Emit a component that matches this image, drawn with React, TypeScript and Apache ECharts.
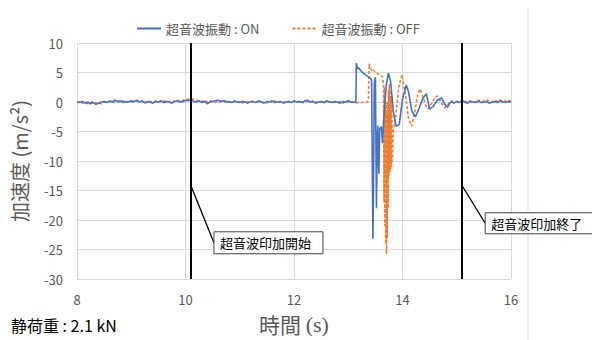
import React, { useEffect, useRef } from "react";
import * as echarts from "echarts";

const seriesNames = ["超音波振動 : ON", "超音波振動 : OFF"];
const seriesColors = ["#4472c4", "#ed7d31"];
const xAxisName = "時間";
const xAxisUnit = "(s)";
const yAxisName = "加速度 (m/s²)";
const xRange = [8, 16];
const yRange = [-30, 10];
const xStep = 2;
const yStep = 5;
const sampleStep = 0.05;

// ON: quiet part before the event, sampled every 0.05 s from 8.00 s
const onPreStart = 8.0;
const onPre = [
  0.0, -0.1, 0.1, -0.2, 0.0, -0.3, -0.1, -0.4, -0.2, 0.0,
  0.1, -0.1, 0.2, 0.0, 0.3, 0.1, 0.2, -0.1, 0.1, 0.0,
  0.2, 0.1, 0.3, 0.0, 0.2, -0.1, 0.1, 0.0, -0.2, 0.1,
  0.0, 0.2, -0.1, 0.1, 0.0, -0.2, 0.1, 0.2, 0.0, 0.1,
  0.3, 0.2, 0.4, 0.1, 0.0, 0.2, -0.1, 0.1, -0.3, 0.0,
  0.1, 0.2, 0.3, 0.1, 0.2, 0.0, 0.1, -0.1, 0.2, 0.0,
  -0.1, 0.1, 0.0, -0.2, 0.1, 0.0, -0.1, 0.2, 0.0, -0.2,
  0.1, 0.0, 0.2, -0.1, 0.0, 0.1, -0.2, 0.0, 0.1, -0.1,
  0.2, 0.0, 0.1, -0.1, 0.2, 0.3, 0.0, 0.1, -0.2, 0.0,
  0.1, -0.1, 0.2, 0.0, -0.1, 0.1, 0.0, -0.2, 0.1, 0.0,
  0.2, 0.0, -0.1,
];
// ON: the event [time, value]
const onBurst: [number, number][] = [
  [13.14, 0.0], [13.15, 6.6], [13.17, 5.6], [13.19, 5.8], [13.25, 5.1],
  [13.32, 4.6], [13.4, 4.1], [13.43, 3.7], [13.455, -23.2], [13.47, -9],
  [13.48, 3.2], [13.5, 4.2], [13.52, -18], [13.535, -6], [13.545, -4],
  [13.565, -12.2], [13.58, -4.5], [13.61, -4.2], [13.63, -7], [13.66, -2],
  [13.7, 2.8], [13.74, 4.9], [13.78, 3.5], [13.83, -1.5], [13.88, -4.1],
  [13.94, -3.8], [14.0, 0.5], [14.07, 2.9], [14.11, 1.8], [14.17, -1.5],
  [14.24, -2.5], [14.3, -1.2], [14.37, 0.5], [14.44, 1.4], [14.5, -1.2],
  [14.56, -0.8], [14.64, 0.3], [14.72, 0.7], [14.78, -0.4], [14.83, -0.9],
  [14.87, -0.2],
];
const onPostStart = 14.9;
const onPost = [
  0.0, -0.2, 0.1, -0.1, 0.2, 0.0, -0.2, 0.1, 0.0, -0.1, 0.2, -0.1,
  0.0, 0.1, -0.2, 0.0, 0.1, -0.1, 0.2, 0.0, -0.1, 0.1, 0.0,
];

// OFF
const offPreStart = 8.0;
const offPre = [
  -0.1, 0.1, -0.2, 0.0, -0.3, -0.1, 0.1, -0.2, 0.0, -0.3,
  -0.1, 0.1, 0.0, 0.2, -0.1, 0.1, 0.0, 0.2, -0.1, 0.0,
  0.1, -0.1, 0.2, 0.0, 0.1, -0.2, 0.0, 0.1, -0.1, 0.2,
  0.0, 0.1, 0.2, 0.0, 0.1, -0.1, 0.2, 0.3, 0.1, 0.3,
  0.4, 0.5, 0.6, 0.4, 0.3, 0.2, 0.1, 0.3, 0.0, 0.2,
  0.1, -0.1, 0.2, 0.0, 0.1, 0.2, -0.1, 0.1, 0.0, 0.2,
  0.0, -0.2, 0.1, 0.0, -0.1, 0.2, 0.1, -0.1, 0.0, 0.1,
  -0.2, 0.1, 0.0, 0.2, -0.1, 0.0, 0.1, -0.2, 0.1, 0.0,
  0.1, -0.1, 0.2, 0.0, -0.2, 0.1, 0.0, 0.2, -0.1, 0.1,
  0.0, -0.2, 0.1, 0.0, 0.2, -0.1, 0.0, 0.1, -0.2, 0.0,
  0.1, -0.1, 0.0, -0.2, 0.0, -0.1, 0.0,
];
const offBurst: [number, number][] = [
  [13.35, 0.0], [13.37, 0.2], [13.385, 6.5], [13.4, 5.9], [13.43, 5.2],
  [13.47, 5.4], [13.52, 4.9], [13.58, 4.6], [13.63, 4.3], [13.65, 3.0],
  [13.66, -17], [13.667, 2.5], [13.675, -21], [13.682, 1.5], [13.69, -24],
  [13.697, 0], [13.705, -25.8], [13.712, -2], [13.72, -23], [13.727, 0],
  [13.735, -18], [13.742, 2], [13.75, -13], [13.757, 3], [13.765, -12],
  [13.772, 1], [13.78, -11.5], [13.787, 2], [13.795, -11], [13.802, 1],
  [13.81, -10], [13.83, -5], [13.87, -3], [13.93, 2.5], [13.99, 4.6],
  [14.05, 1.5], [14.11, -2.8], [14.17, -4.1], [14.23, -1.5], [14.28, 1.2],
  [14.32, 2.2], [14.38, 0.8], [14.43, -0.6], [14.47, -1.2], [14.54, -0.2],
  [14.6, 0.8], [14.65, 1.0], [14.72, -0.2], [14.78, -1.0], [14.84, -0.4],
  [14.88, 0.0],
];
const offPostStart = 14.9;
const offPost = [
  0.2, 0.0, 0.1, -0.1, 0.3, 0.1, 0.0, 0.2, -0.1, 0.1, 0.3, 0.0,
  0.2, 0.4, 0.1, 0.0, 0.3, 0.1, 0.4, 0.0, 0.2, 0.3, 0.1,
];

const markerTimes = [10.1, 15.1];
const calloutTexts = ["超音波印加開始", "超音波印加終了"];
const calloutAnchorY = -14.2;
const loadText = "静荷重 : 2.1 kN";

function sampled(start: number, values: number[]): [number, number][] {
  return values.map((v, i) => [+(start + i * sampleStep).toFixed(3), v]);
}

const FONT = "'Noto Sans CJK JP', 'Noto Sans', sans-serif";

export default function App() {
  const ref = useRef<HTMLDivElement>(null);
  useEffect(() => {
    if (!ref.current) return;
    const chart = echarts.init(ref.current, undefined, { renderer: "svg" });
    const onData = [...sampled(onPreStart, onPre), ...onBurst, ...sampled(onPostStart, onPost)];
    const offData = [...sampled(offPreStart, offPre), ...offBurst, ...sampled(offPostStart, offPost)];
    chart.setOption({
      animation: false,
      textStyle: { fontFamily: FONT },
      grid: { left: 77, right: 81, top: 43, bottom: 61 },
      legend: {
        top: 17,
        left: 131,
        itemWidth: 24,
        itemHeight: 10,
        itemGap: 32,
        itemStyle: { opacity: 0 },
        textStyle: { color: "#595959", fontSize: 13, fontFamily: FONT },
        data: seriesNames,
      },
      xAxis: {
        type: "value",
        min: xRange[0],
        max: xRange[1],
        interval: xStep,
        name: xAxisName + " {s|" + xAxisUnit + "}",
        nameLocation: "middle",
        nameGap: 34,
        nameTextStyle: {
          color: "#595959",
          fontSize: 21,
          fontFamily: FONT,
          rich: { s: { fontFamily: "'Liberation Serif', serif", fontSize: 22, color: "#595959" } },
        },
        axisLine: { show: false },
        axisTick: { show: false },
        axisLabel: { color: "#595959", fontSize: 13, margin: 14 },
        splitLine: { show: true, lineStyle: { color: "#d9d9d9", width: 1 } },
      },
      yAxis: {
        type: "value",
        min: yRange[0],
        max: yRange[1],
        interval: yStep,
        name: yAxisName,
        nameLocation: "middle",
        nameGap: 48,
        nameTextStyle: { color: "#595959", fontSize: 20, fontFamily: FONT },
        axisLine: { show: false },
        axisTick: { show: false },
        axisLabel: { color: "#595959", fontSize: 13, margin: 14 },
        splitLine: { show: true, lineStyle: { color: "#d9d9d9", width: 1 } },
      },
      series: [
        {
          name: seriesNames[0],
          type: "line",
          data: onData,
          symbol: "none",
          lineStyle: { color: seriesColors[0], width: 1.6 },
          itemStyle: { color: seriesColors[0] },
          z: 3,
          markLine: {
            silent: true,
            symbol: ["none", "none"],
            label: { show: false },
            lineStyle: { color: "#000", width: 2, type: "solid" },
            data: markerTimes.map((t) => ({ xAxis: t })),
          },
        },
        {
          name: seriesNames[1],
          type: "line",
          data: offData,
          symbol: "none",
          lineStyle: { color: seriesColors[1], width: 1.6, type: [3, 2] },
          itemStyle: { color: seriesColors[1] },
          z: 2,
        },
      ],
    });

    const a1 = chart.convertToPixel({ xAxisIndex: 0, yAxisIndex: 0 }, [markerTimes[0], calloutAnchorY]) as number[];
    const a2 = chart.convertToPixel({ xAxisIndex: 0, yAxisIndex: 0 }, [markerTimes[1], calloutAnchorY]) as number[];
    const callout = (a: number[], dx: number, dy: number, w: number, h: number, text: string) => [
      {
        type: "line",
        shape: { x1: a[0], y1: a[1], x2: a[0] + dx, y2: a[1] + dy + h / 2 },
        style: { stroke: "#000", lineWidth: 1.3 },
        z: 10,
      },
      {
        type: "rect",
        shape: { x: a[0] + dx, y: a[1] + dy, width: w, height: h },
        style: { fill: "#fff", stroke: "#404040", lineWidth: 1 },
        z: 10,
      },
      {
        type: "text",
        x: a[0] + dx + 6,
        y: a[1] + dy + h / 2,
        style: { text, fill: "#000", fontSize: 13, fontFamily: FONT, verticalAlign: "middle" },
        z: 11,
      },
    ];
    chart.setOption({
      graphic: [
        {
          type: "line",
          shape: { x1: 528, y1: 7, x2: 528, y2: 340 },
          style: { stroke: "#d9d9d9", lineWidth: 1 },
        },
        ...callout(a1, 23, 46, 109, 22, calloutTexts[0]),
        ...callout(a2, 23, 27, 112, 21, calloutTexts[1]),
        {
          type: "text",
          left: 11,
          top: 317,
          style: { text: loadText, fill: "#000", fontSize: 16, fontFamily: FONT },
        },
      ],
    });
    return () => chart.dispose();
  }, []);
  return (
    <div
      ref={ref}
      style={{ position: "fixed", left: 0, top: 0, width: 592, height: 340, background: "#fff" }}
    />
  );
}
